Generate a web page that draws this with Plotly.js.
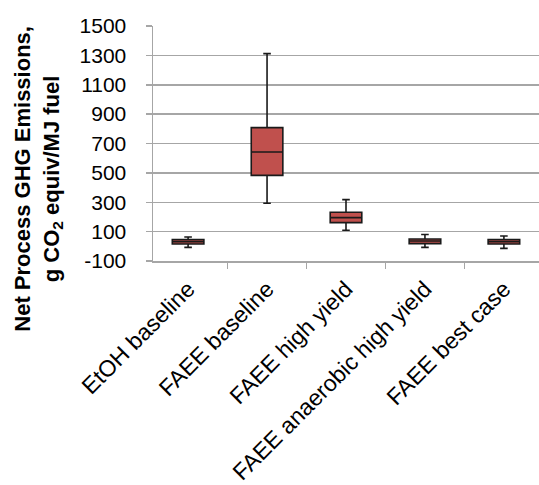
<!DOCTYPE html>
<html>
<head>
<meta charset="utf-8">
<script src="https://cdn.plot.ly/plotly-3.0.1.min.js"></script>
<style>html,body{margin:0;padding:0;background:#fff;}#chart{width:539px;height:485px;}</style>
</head>
<body>
<div id="chart"></div>
<script>
const categories = ["EtOH baseline", "FAEE baseline", "FAEE high yield", "FAEE anaerobic high yield", "FAEE best case"];
const lowerWhisker = [-7, 293, 109, -7, -14];
const q1Values = [16, 483, 161, 18, 16];
const medianValues = [32, 642, 195, 36, 32];
const q3Values = [46, 808, 232, 50, 46];
const upperWhisker = [63, 1312, 318, 80, 70];
const yTickValues = [-100, 100, 300, 500, 700, 900, 1100, 1300, 1500];

const fontFam = "Liberation Sans, Arial, sans-serif";

const trace = {
  type: "box",
  x: categories,
  q1: q1Values,
  median: medianValues,
  q3: q3Values,
  lowerfence: lowerWhisker,
  upperfence: upperWhisker,
  boxpoints: false,
  fillcolor: "#C0504D",
  line: {color: "#1a1a1a", width: 1.6},
  whiskerwidth: 0.24,
  width: 0.4,
  showlegend: false,
  hoverinfo: "skip"
};

const layout = {
  width: 539,
  height: 485,
  margin: {l: 153, r: 0, t: 26, b: 224},
  paper_bgcolor: "#ffffff",
  plot_bgcolor: "#ffffff",
  font: {family: fontFam, color: "#000000"},
  showlegend: false,
  xaxis: {
    type: "category",
    tickson: "boundaries",
    ticks: "outside",
    ticklen: 6,
    tickwidth: 1.5,
    tickcolor: "#A6A6A6",
    showline: true,
    linecolor: "#A6A6A6",
    linewidth: 1.5,
    showgrid: false,
    tickangle: -45,
    tickfont: {family: fontFam, size: 23, color: "#000000"},
    ticklabelstandoff: 4,
    automargin: false,
    fixedrange: true
  },
  yaxis: {
    range: [-100, 1500],
    tickvals: yTickValues,
    ticktext: yTickValues.map(String),
    ticks: "outside",
    ticklen: 6,
    tickwidth: 1.5,
    tickcolor: "#A6A6A6",
    showline: true,
    linecolor: "#A6A6A6",
    linewidth: 1.5,
    showgrid: true,
    gridcolor: "#A6A6A6",
    gridwidth: 1.5,
    zeroline: false,
    tickfont: {family: fontFam, size: 21, color: "#000000"},
    ticklabelstandoff: 15,
    automargin: false,
    fixedrange: true
  },
  annotations: [{
    xref: "paper", yref: "paper",
    x: -0.298, y: 0.35,
    xanchor: "center", yanchor: "middle",
    textangle: -90,
    showarrow: false,
    align: "center",
    text: "<b>Net Process GHG Emissions,<br>g CO<sub>2</sub> equiv/MJ fuel</b>",
    font: {family: fontFam, size: 22, color: "#000000"}
  }]
};

Plotly.newPlot("chart", [trace], layout, {displayModeBar: false, staticPlot: true});
</script>
</body>
</html>
